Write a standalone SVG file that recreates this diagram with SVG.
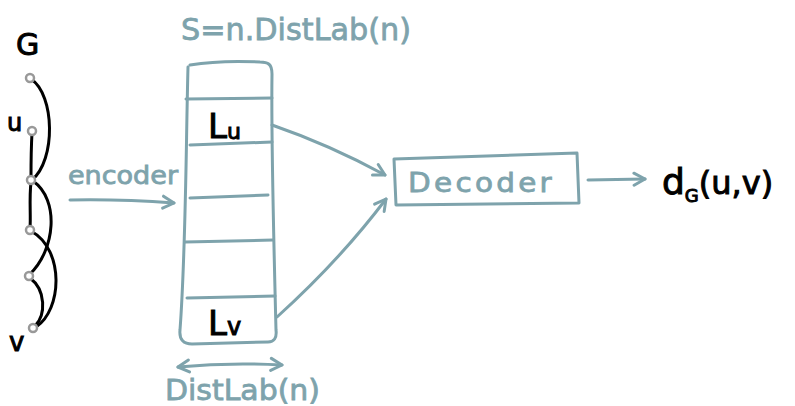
<svg xmlns="http://www.w3.org/2000/svg" width="795" height="406" viewBox="0 0 795 406">
  <style>
    .ink { fill: none; stroke: #7ea3ac; stroke-width: 3; stroke-linecap: round; stroke-linejoin: round; }
    .edge { fill: none; stroke: #000; stroke-width: 3; stroke-linecap: round; }
    .vtx { fill: #fff; stroke: #999; stroke-width: 2.5; }
    .lbl { font-family: "DejaVu Sans", "Liberation Sans", sans-serif; fill: #7ea3ac; stroke: #7ea3ac; stroke-width: 0.8; }
    .blk { font-family: "DejaVu Sans", "Liberation Sans", sans-serif; fill: #000; stroke: #000; stroke-width: 1; }
  </style>
  <defs>
    <marker id="head" viewBox="0 0 16 16" refX="13" refY="8" markerWidth="16" markerHeight="16" markerUnits="userSpaceOnUse" orient="auto-start-reverse">
      <path d="M2,2 L13,8 L2,14" fill="none" stroke="#7ea3ac" stroke-width="3" stroke-linecap="round" stroke-linejoin="round"/>
    </marker>
  </defs>

  <!-- graph G -->
  <g id="graph">
    <text class="blk" x="16" y="55" font-size="30">G</text>
    <g id="edges-g">
      <path class="edge" d="M31,79 C55,95 56,160 32,180"/>
      <path class="edge" d="M32,133 C31,150 31,165 31,178"/>
      <path class="edge" d="M31,182 C29,200 31,215 30,228"/>
      <path class="edge" d="M33,181 C60,200 55,250 30,274"/>
      <path class="edge" d="M31,231 C65,250 62,310 36,327"/>
      <path class="edge" d="M30,278 C46,290 46,315 35,326"/>
    </g>
    <circle class="vtx" cx="30" cy="78" r="4"/>
    <circle class="vtx" cx="32" cy="131" r="4"/>
    <circle class="vtx" cx="31" cy="180" r="4"/>
    <circle class="vtx" cx="30" cy="230" r="4"/>
    <circle class="vtx" cx="29" cy="276" r="4"/>
    <circle class="vtx" cx="33" cy="328" r="4"/>
    <text class="blk" x="7" y="131" font-size="24">u</text>
    <text class="blk" x="9" y="351" font-size="26">v</text>
  </g>

  <!-- encoder -->
  <g id="encoder">
    <text class="lbl" x="68" y="184" font-size="24" textLength="110" lengthAdjust="spacingAndGlyphs">encoder</text>
  </g>

  <!-- label storage S -->
  <g id="storage">
    <text class="lbl" x="181" y="40" font-size="31" textLength="230" lengthAdjust="spacingAndGlyphs">S=n.DistLab(n)</text>
    <path class="ink" d="M188,67 C186,140 186,250 180,330 C179,340 184,344 192,344 L268,342 C274,342 277,338 276,330 C274,250 271,140 272,74 C272,64 268,62 260,62 Q220,60 190,65"/>
    <path class="ink" d="M186,99 L272,98"/>
    <path class="ink" d="M190,145 L272,142"/>
    <path class="ink" d="M190,198 L268,195"/>
    <path class="ink" d="M185,242 L273,240"/>
    <path class="ink" d="M187,298 L275,296"/>
    <text class="blk" x="208" y="138" font-size="34">L<tspan font-size="22" dy="1">u</tspan></text>
    <text class="blk" x="208" y="335" font-size="34">L<tspan font-size="24" dy="0">v</tspan></text>
  </g>

  <!-- width span -->
  <g id="span">
    <path class="ink" d="M178,367 Q230,362 282,365" marker-start="url(#head)" marker-end="url(#head)"/>
    <text class="lbl" x="165" y="400" font-size="28" textLength="155" lengthAdjust="spacingAndGlyphs">DistLab(n)</text>
  </g>

  <!-- decoder -->
  <g id="decoder">
    <path class="ink" d="M394,159 L577,153 L579,203 L396,205 Z"/>
    <text class="lbl" x="408" y="192" font-size="27" letter-spacing="3" textLength="147" lengthAdjust="spacingAndGlyphs">Decoder</text>
  </g>

  <!-- result -->
  <g id="result">
    <text class="blk" x="662" y="194" font-size="36">d<tspan font-size="18" dy="8">G</tspan><tspan dy="-8" font-size="32">(u,v)</tspan></text>
  </g>

  <!-- connectors -->
  <g id="connectors">
    <path class="ink" d="M70,200 Q120,199 174,203" marker-end="url(#head)"/>
    <path class="ink" d="M272,125 Q330,145 385,175" marker-end="url(#head)"/>
    <path class="ink" d="M277,317 Q340,260 386,199" marker-end="url(#head)"/>
    <path class="ink" d="M588,180 L645,179" marker-end="url(#head)"/>
  </g>
</svg>
